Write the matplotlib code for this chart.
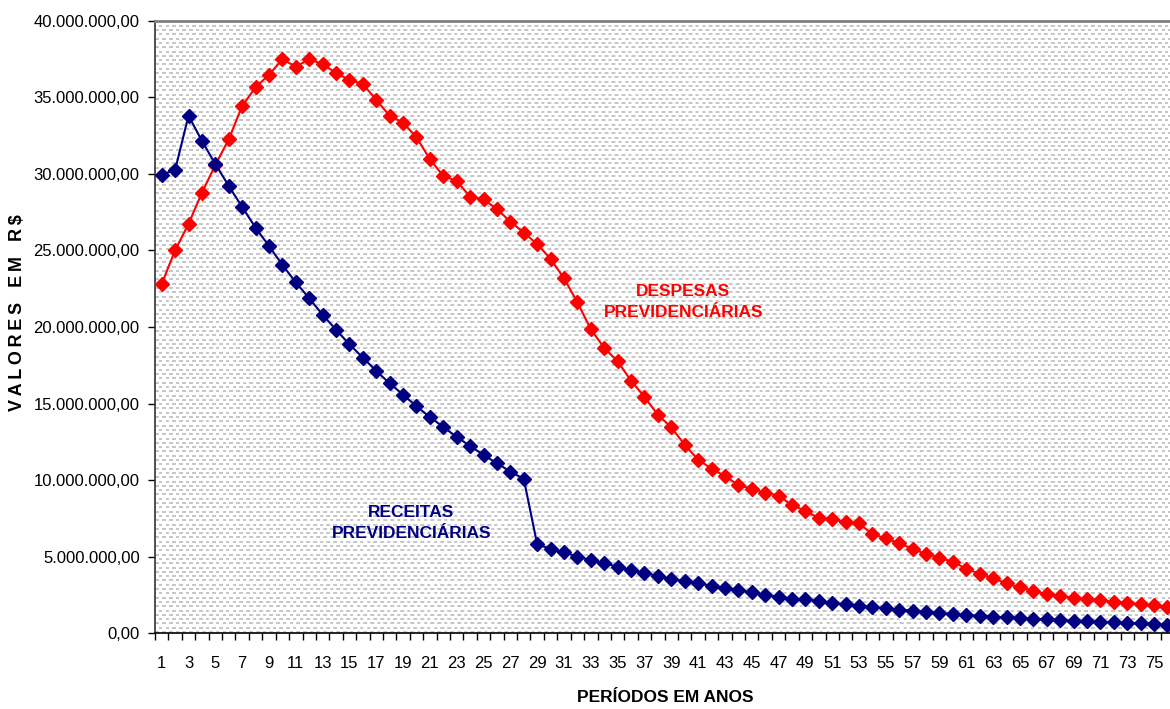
import numpy as np
import matplotlib
matplotlib.use("Agg")
import matplotlib.pyplot as plt
from matplotlib.ticker import FixedLocator, FuncFormatter

# valores em milhões de R$, períodos 1..76
periodos = list(range(1, 77))

receitas = [29.94, 30.25, 33.80, 32.15, 30.64, 29.21, 27.84, 26.48, 25.29, 24.05,
            22.92, 21.87, 20.80, 19.82, 18.87, 18.00, 17.13, 16.32, 15.58, 14.82,
            14.12, 13.47, 12.82, 12.23, 11.64, 11.10, 10.56, 10.08, 5.81, 5.50,
            5.29, 5.00, 4.79, 4.57, 4.35, 4.13, 3.96, 3.74, 3.55, 3.41,
            3.26, 3.11, 2.94, 2.81, 2.68, 2.52, 2.39, 2.26, 2.22, 2.11,
            1.98, 1.89, 1.80, 1.72, 1.63, 1.54, 1.48, 1.39, 1.33, 1.26,
            1.19, 1.15, 1.08, 1.04, 1.00, 0.95, 0.91, 0.87, 0.82, 0.78,
            0.76, 0.72, 0.67, 0.65, 0.61, 0.54]

despesas = [22.81, 25.01, 26.73, 28.77, 30.58, 32.26, 34.43, 35.65, 36.47, 37.48,
            37.00, 37.48, 37.17, 36.59, 36.13, 35.87, 34.82, 33.80, 33.34, 32.39,
            30.95, 29.86, 29.53, 28.51, 28.34, 27.70, 26.88, 26.16, 25.42, 24.44,
            23.18, 21.61, 19.85, 18.63, 17.76, 16.49, 15.43, 14.27, 13.45, 12.31,
            11.34, 10.75, 10.27, 9.68, 9.42, 9.18, 8.97, 8.38, 7.99, 7.53,
            7.44, 7.25, 7.18, 6.46, 6.20, 5.88, 5.50, 5.18, 4.92, 4.68,
            4.20, 3.89, 3.59, 3.26, 3.00, 2.76, 2.57, 2.44, 2.32, 2.24,
            2.17, 2.04, 1.98, 1.89, 1.83, 1.74]

y_ticks = [0, 5, 10, 15, 20, 25, 30, 35, 40]
x_labels = list(range(1, 77, 2))

plt.rcParams['font.family'] = ['Liberation Sans', 'DejaVu Sans']

fig = plt.figure(figsize=(11.7, 7.09), dpi=100)
ax = fig.add_axes([155 / 1170, 1 - 633.3 / 709, 76 * 13.41 / 1170, 612.6 / 709])

# fundo pontilhado estilo Excel
h, w = 613, 1019
ii, jj = np.mgrid[0:h, 0:w].astype(float)
row = np.floor(ii / 4.3)
on = ((ii % 4.3) < 2.0) & (((jj + (row % 2) * 3.35) % 6.7) < 3.6)
tex = np.where(on, 0.78, 1.0)
ax.imshow(tex, cmap='gray', vmin=0, vmax=1, extent=[0, 1, 0, 1],
          transform=ax.transAxes, aspect='auto', zorder=0, interpolation='bilinear')

ax.plot(periodos, despesas, color='#FF0000', lw=1.5, marker='D', ms=7, zorder=3)
ax.plot(periodos, receitas, color='#000080', lw=1.5, marker='D', ms=7, zorder=3)

ax.set_xlim(0.5, 76.5)
ax.set_ylim(0, 40)

ax.yaxis.set_major_locator(FixedLocator(y_ticks))
ax.yaxis.set_major_formatter(FuncFormatter(
    lambda v, p: f"{v * 1e6:,.2f}".replace(',', 'X').replace('.', ',').replace('X', '.')))
ax.tick_params(axis='y', direction='out', length=5, width=1, pad=6, labelsize=12)

ax.set_xticks(x_labels)
ax.set_xticks(np.arange(0.5, 77, 1), minor=True)
ax.tick_params(axis='x', which='major', length=0, pad=16, labelsize=12)
ax.tick_params(axis='x', which='minor', direction='out', length=5, width=1)

ax.spines['right'].set_visible(False)
ax.spines['top'].set_color('#808080')
ax.spines['top'].set_linewidth(2)
ax.spines['left'].set_color('#333333')
ax.spines['bottom'].set_color('#000000')
ax.spines['left'].set_linewidth(1.2)
ax.spines['bottom'].set_linewidth(1.2)

ax.text(39.9, 21.6, "DESPESAS\nPREVIDENCIÁRIAS", color='#FF0000', fontsize=12.5,
        fontweight='bold', ha='center', va='center', linespacing=1.5)
ax.text(19.6, 7.2, "RECEITAS\nPREVIDENCIÁRIAS", color='#000080', fontsize=12.5,
        fontweight='bold', ha='center', va='center', linespacing=1.5)

fig.text(665 / 1170, 1 - 697 / 709, "PERÍODOS EM ANOS", fontsize=12.5, fontweight='bold',
         ha='center', va='center')
ylab = "   ".join("\u2009".join(wd) for wd in ["VALORES", "EM", "R$"])
fig.text(18 / 1170, 1 - 313 / 709, ylab, fontsize=13,
         fontweight='bold', rotation=90, ha='center', va='center')

fig.savefig("out.png", dpi=100)
